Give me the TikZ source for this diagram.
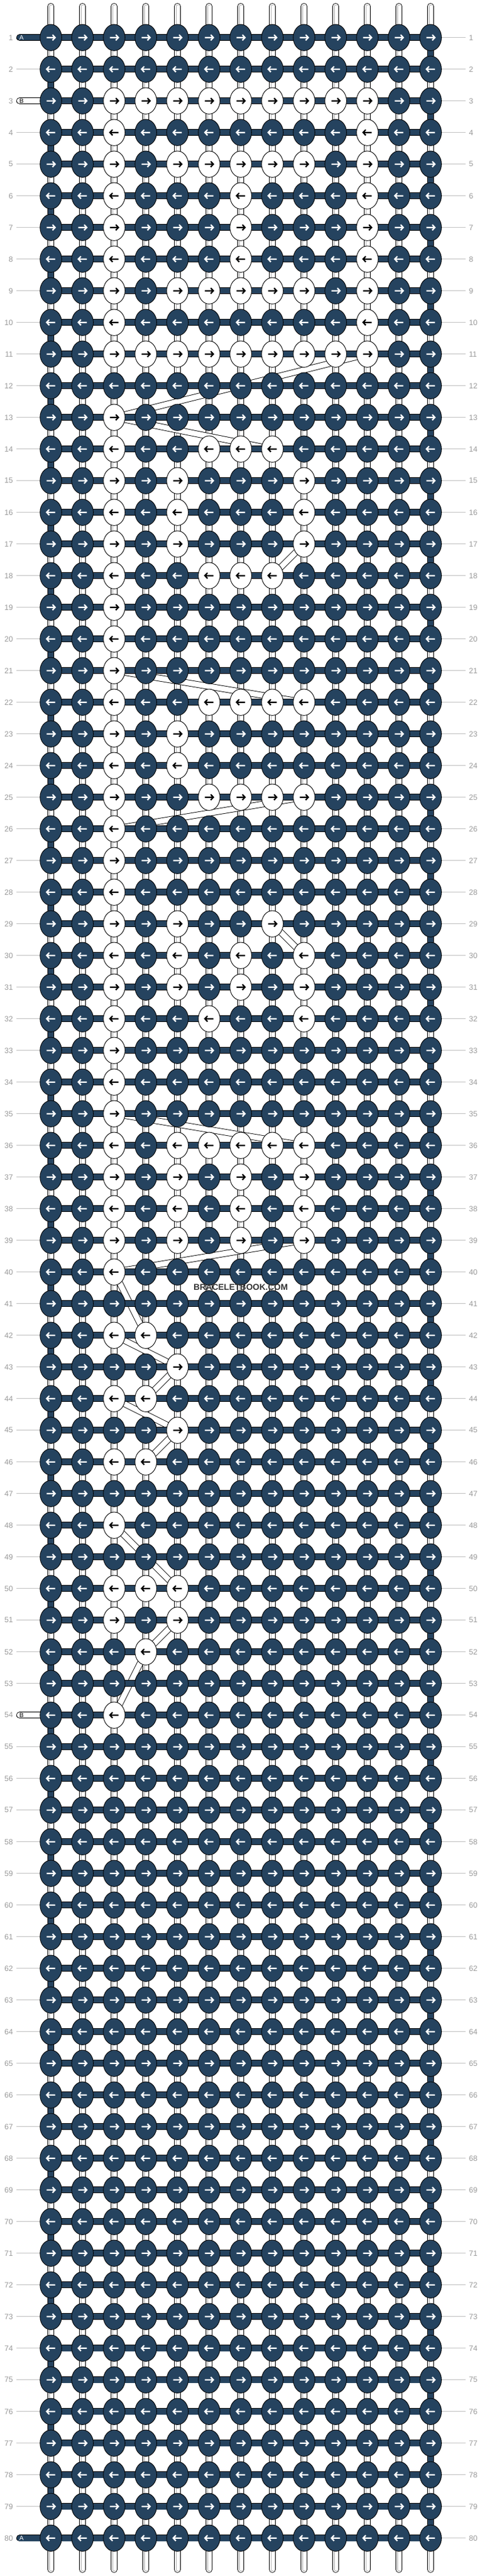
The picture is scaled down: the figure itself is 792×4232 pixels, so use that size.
\documentclass[tikz,border=0pt]{standalone}
\usepackage{fontspec}
\setmainfont{Liberation Sans}
\usetikzlibrary{shapes.geometric}
\definecolor{navy}{HTML}{25435F}
\definecolor{lblgray}{HTML}{9A9A9A}
\definecolor{leadgray}{HTML}{C0C0C0}
\definecolor{strgray}{HTML}{B0B0B0}
\pgfdeclarelayer{bg}
\pgfsetlayers{bg,main}
\tikzset{
  knot/.style={ellipse, draw=black, line width=0.9pt, minimum width=35.6pt, minimum height=43.3pt, inner sep=0pt},
  arr/.style={line width=2.2pt, line cap=butt, line join=miter},
  vstring/.style={draw=black, line width=10.8pt, line cap=round,
     postaction={draw=white, line width=9pt, line cap=round},
     postaction={draw=strgray, line width=5.6pt, line cap=round},
     postaction={draw=white, line width=3.8pt, line cap=round}},
  dseg/.style={draw=black, line width=10.8pt, postaction={draw=navy, line width=9pt}},
  bband/.style={draw=black, line width=10.6pt, postaction={draw=white, line width=8.8pt}},
  hband/.style={draw=black, line width=11.3pt, postaction={draw=navy, line width=9.5pt}},
  apill/.style={draw=black, line width=11.3pt, line cap=round, postaction={draw=navy, line width=9.5pt, line cap=round}},
  bpill/.style={draw=black, line width=11.3pt, line cap=round, postaction={draw=white, line width=9.5pt, line cap=round}},
  leader/.style={draw=leadgray, line width=1pt},
  lbl/.style={text=lblgray, font=\fontsize{12.5}{14}\selectfont, inner sep=0pt},
  pilltxt/.style={font=\fontsize{10.5}{12}\selectfont, inner sep=0pt},
  wmark/.style={font=\bfseries\fontsize{14}{16}\selectfont, text=black!80, inner sep=0pt}
}
\begin{document}
\begin{tikzpicture}[x=1pt,y=-1pt]
\useasboundingbox (0,0) rectangle (792,4232);
% white knots
\foreach \r/\cs in {3/{3,4,5,6,7,8,9,10,11}, 4/{3,11}, 5/{3,5,6,7,8,9,11}, 6/{3,7,11}, 7/{3,7,11}, 8/{3,7,11}, 9/{3,5,6,7,8,9,11}, 10/{3,11}, 11/{3,4,5,6,7,8,9,10,11}, 13/{3}, 14/{3,6,7,8}, 15/{3,5,9}, 16/{3,5,9}, 17/{3,5,9}, 18/{3,6,7,8}, 19/{3}, 20/{3}, 21/{3}, 22/{3,6,7,8,9}, 23/{3,5}, 24/{3,5}, 25/{3,6,7,8,9}, 26/{3}, 27/{3}, 28/{3}, 29/{3,5,8}, 30/{3,5,7,9}, 31/{3,5,7,9}, 32/{3,6,9}, 33/{3}, 34/{3}, 35/{3}, 36/{3,5,6,7,8,9}, 37/{3,5,7,9}, 38/{3,5,7,9}, 39/{3,5,7,9}, 40/{3}, 42/{3,4}, 43/{5}, 44/{3,4}, 45/{5}, 46/{3,4}, 48/{3}, 50/{3,4,5}, 51/{3,5}, 52/{4}, 54/{3}}{%
  \foreach \c in \cs {\expandafter\gdef\csname w-\r-\c\endcsname{}}}
% knots
\foreach \i in {1,...,80}{
  \pgfmathsetmacro{\cy}{61.7+52*(\i-1)}
  \ifodd\i \def\dd{1}\else \def\dd{-1}\fi
  \foreach \j in {1,...,13}{
    \pgfmathsetmacro{\cx}{83.6+52*(\j-1)}
    \ifcsname w-\i-\j\endcsname \def\kf{white}\def\ac{black}\else \def\kf{navy}\def\ac{white}\fi
    \node[knot, fill=\kf] (k-\i-\j) at (\cx,\cy) {};
    \begin{scope}[shift={(\cx,\cy)}, xscale=\dd]
      \draw[arr, draw=\ac] (-7,0) -- (6.5,0) (2.6,-4.6) -- (7,0) -- (2.6,4.6);
    \end{scope}
  }
}
% coordinates
\foreach \j in {1,...,13}{
  \pgfmathsetmacro{\cx}{83.6+52*(\j-1)}
  \coordinate (top-\j) at (\cx,10.4);
  \coordinate (bot-\j) at (\cx,4221.3);
}
\foreach \i in {1,...,80}{
  \pgfmathsetmacro{\cy}{61.7+52*(\i-1)}
  \coordinate (ll-\i) at (26.7,\cy);
  \coordinate (rl-\i) at (765.3,\cy);
  \coordinate (pl-\i) at (32.4,\cy);
  \node[lbl, anchor=east] (nl-\i) at (21.5,\cy) {\i};
  \node[lbl, anchor=west] (nr-\i) at (770.5,\cy) {\i};
  \draw[leader] (k-\i-13.east) -- (rl-\i);
}
\foreach \i in {2,...,79}{
  \ifnum\i=3 \else\ifnum\i=54 \else
    \draw[leader] (ll-\i) -- (k-\i-1.west);
  \fi\fi
}
\node[pilltxt, text=white] (ta-1) at (35.3,62) {A};
\node[pilltxt, text=white] (ta-80) at (35.3,4170) {A};
\node[pilltxt, text=black] (tb-3) at (35.3,166) {B};
\node[pilltxt, text=black] (tb-54) at (35.3,2818) {B};
\node[wmark] (wm) at (395.6,2115) {BRACELETBOOK.COM};
% connectors underneath
\begin{pgfonlayer}{bg}
  \fill[white] (0,0) rectangle (792,4232);
  \foreach \j in {1,...,13}{\draw[vstring] (top-\j) -- (bot-\j);}
  \foreach \i in {1,...,79}{
    \pgfmathtruncatemacro{\n}{\i+1}
    \ifodd\i \def\ec{13}\else \def\ec{1}\fi
    \draw[dseg] (k-\i-\ec.center) -- (k-\n-\ec.center);
  }
  \foreach \ra/\ca/\rb/\cb in {11/11/13/3, 13/3/14/8, 17/9/18/8, 21/3/22/9, 25/9/26/3, 29/8/30/9, 35/3/36/9, 39/9/40/3, 40/3/42/4, 42/3/43/5, 43/5/44/4, 44/3/45/5, 45/5/46/4, 48/3/50/5, 51/5/52/4, 52/4/54/3}{
    \draw[bband] (k-\ra-\ca.center) -- (k-\rb-\cb.center);
  }
  \foreach \i in {1,...,80}{\draw[hband] (k-\i-1.center) -- (k-\i-13.center);}
  \draw[apill] (pl-1) -- (k-1-1.center);
  \draw[apill] (pl-80) -- (k-80-1.center);
  \draw[bpill] (pl-3) -- (k-3-1.center);
  \draw[bpill] (pl-54) -- (k-54-1.center);
\end{pgfonlayer}
\end{tikzpicture}
\end{document}
